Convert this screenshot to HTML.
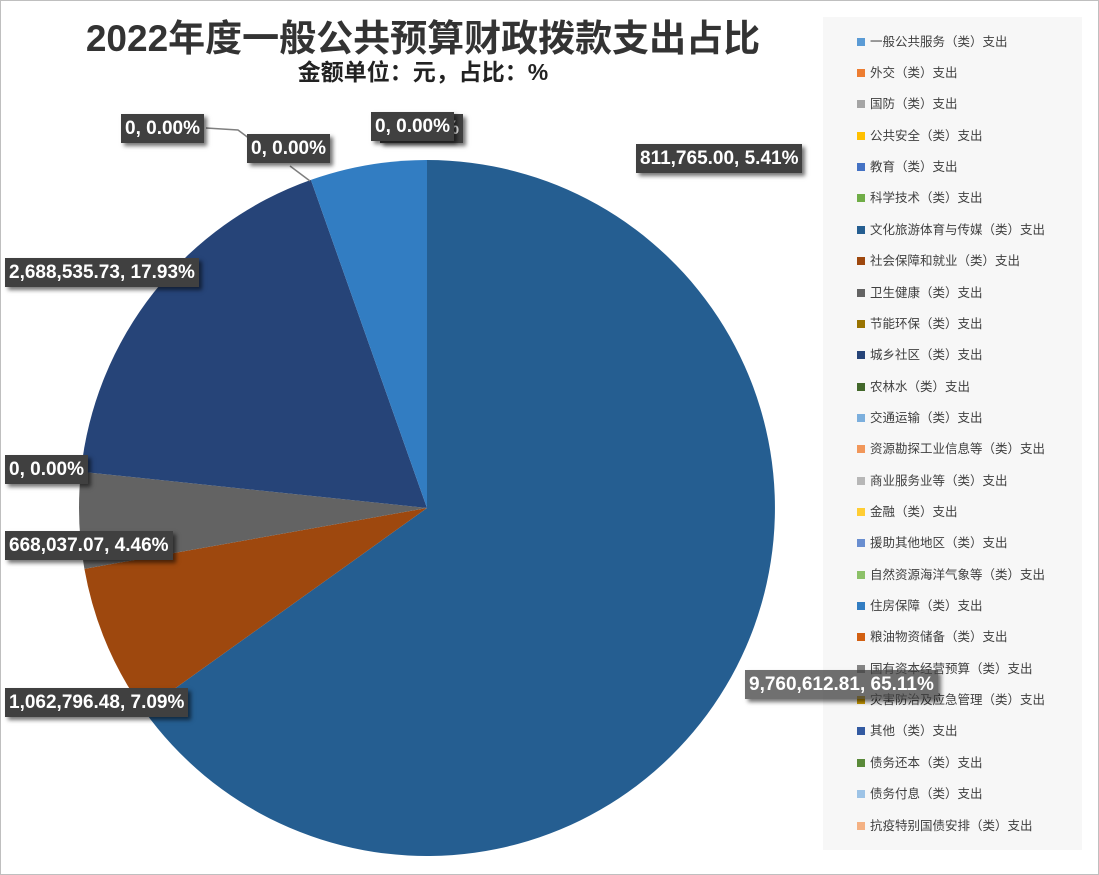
<!DOCTYPE html>
<html><head><meta charset="utf-8"><style>
body{margin:0;background:#fff;}
.wrap{position:relative;width:1099px;height:875px;overflow:hidden;font-family:"Liberation Sans","Noto Sans CJK SC",sans-serif;}
.frame{position:absolute;left:0;top:0;width:1097px;height:873px;border:1px solid #bfbfbf;}
.t{position:absolute;left:0;width:846px;text-align:center;font-weight:bold;color:#333;white-space:nowrap;}
.lb{position:absolute;background:#404040;color:#fff;font-weight:bold;font-size:19px;line-height:29px;padding:0 4px;box-shadow:3px 3px 4px rgba(0,0,0,.55);white-space:nowrap;z-index:2;}
.leg{position:absolute;left:823px;top:17px;width:259px;height:833px;background:#f7f7f7;z-index:1;}
.li{position:absolute;left:34px;font-size:12.5px;color:#404040;white-space:nowrap;line-height:16px;}
.li i{display:inline-block;width:8px;height:8px;margin-right:5px;vertical-align:0px;}
</style></head><body><div class="wrap">
<div class="frame"></div>
<div class="t" style="top:8px;font-size:37px;">2022年度一般公共预算财政拨款支出占比</div>
<div class="t" style="top:53px;font-size:23px;color:#222">金额单位：元，占比：%</div>
<svg width="1099" height="875" style="position:absolute;left:0;top:0">
<path d="M427,508 L427,160 A348,348 0 1 1 144.0,710.6 Z" fill="#255E91"/>
<path d="M427,508 L144.0,710.6 A348,348 0 0 1 84.4,568.9 Z" fill="#9E480E"/>
<path d="M427,508 L84.4,568.9 A348,348 0 0 1 80.9,471.7 Z" fill="#636363"/>
<path d="M427,508 L80.9,471.7 A348,348 0 0 1 310.9,179.9 Z" fill="#264478"/>
<path d="M427,508 L310.9,179.9 A348,348 0 0 1 427,160 Z" fill="#327DC2"/>
<polyline points="206,128 238,130 258,145" fill="none" stroke="#7f7f7f" stroke-width="1.5"/>
<polyline points="310,181 290,166" fill="none" stroke="#7f7f7f" stroke-width="1.5"/>
</svg>
<div class="lb" style="left:380px;top:114px;">0, 0.00%</div>
<div class="lb" style="left:371px;top:112px;">0, 0.00%</div>
<div class="lb" style="left:121px;top:114px;">0, 0.00%</div>
<div class="lb" style="left:247px;top:134px;">0, 0.00%</div>
<div class="lb" style="left:636px;top:144px;">811,765.00, 5.41%</div>
<div class="lb" style="left:5px;top:258px;">2,688,535.73, 17.93%</div>
<div class="lb" style="left:5px;top:455px;">0, 0.00%</div>
<div class="lb" style="left:5px;top:531px;">668,037.07, 4.46%</div>
<div class="lb" style="left:5px;top:688px;">1,062,796.48, 7.09%</div>
<div class="lb" style="left:745px;top:670px;background:rgba(64,64,64,0.75)">9,760,612.81, 65.11%</div>
<div class="leg">
<div class="li" style="top:17px"><i style="background:#5B9BD5"></i>一般公共服务（类）支出</div>
<div class="li" style="top:48px"><i style="background:#ED7D31"></i>外交（类）支出</div>
<div class="li" style="top:79px"><i style="background:#A5A5A5"></i>国防（类）支出</div>
<div class="li" style="top:111px"><i style="background:#FFC000"></i>公共安全（类）支出</div>
<div class="li" style="top:142px"><i style="background:#4472C4"></i>教育（类）支出</div>
<div class="li" style="top:173px"><i style="background:#70AD47"></i>科学技术（类）支出</div>
<div class="li" style="top:205px"><i style="background:#255E91"></i>文化旅游体育与传媒（类）支出</div>
<div class="li" style="top:236px"><i style="background:#9E480E"></i>社会保障和就业（类）支出</div>
<div class="li" style="top:268px"><i style="background:#636363"></i>卫生健康（类）支出</div>
<div class="li" style="top:299px"><i style="background:#997300"></i>节能环保（类）支出</div>
<div class="li" style="top:330px"><i style="background:#264478"></i>城乡社区（类）支出</div>
<div class="li" style="top:362px"><i style="background:#43682B"></i>农林水（类）支出</div>
<div class="li" style="top:393px"><i style="background:#7CAFDD"></i>交通运输（类）支出</div>
<div class="li" style="top:424px"><i style="background:#F1975A"></i>资源勘探工业信息等（类）支出</div>
<div class="li" style="top:456px"><i style="background:#B7B7B7"></i>商业服务业等（类）支出</div>
<div class="li" style="top:487px"><i style="background:#FFCD33"></i>金融（类）支出</div>
<div class="li" style="top:518px"><i style="background:#698ED0"></i>援助其他地区（类）支出</div>
<div class="li" style="top:550px"><i style="background:#8CC168"></i>自然资源海洋气象等（类）支出</div>
<div class="li" style="top:581px"><i style="background:#327DC2"></i>住房保障（类）支出</div>
<div class="li" style="top:612px"><i style="background:#D26012"></i>粮油物资储备（类）支出</div>
<div class="li" style="top:644px"><i style="background:#848484"></i>国有资本经营预算（类）支出</div>
<div class="li" style="top:675px"><i style="background:#CC9A00"></i>灾害防治及应急管理（类）支出</div>
<div class="li" style="top:706px"><i style="background:#335AA1"></i>其他（类）支出</div>
<div class="li" style="top:738px"><i style="background:#5A8A39"></i>债务还本（类）支出</div>
<div class="li" style="top:769px"><i style="background:#9DC3E6"></i>债务付息（类）支出</div>
<div class="li" style="top:801px"><i style="background:#F4B183"></i>抗疫特别国债安排（类）支出</div>
</div>
</div></body></html>
